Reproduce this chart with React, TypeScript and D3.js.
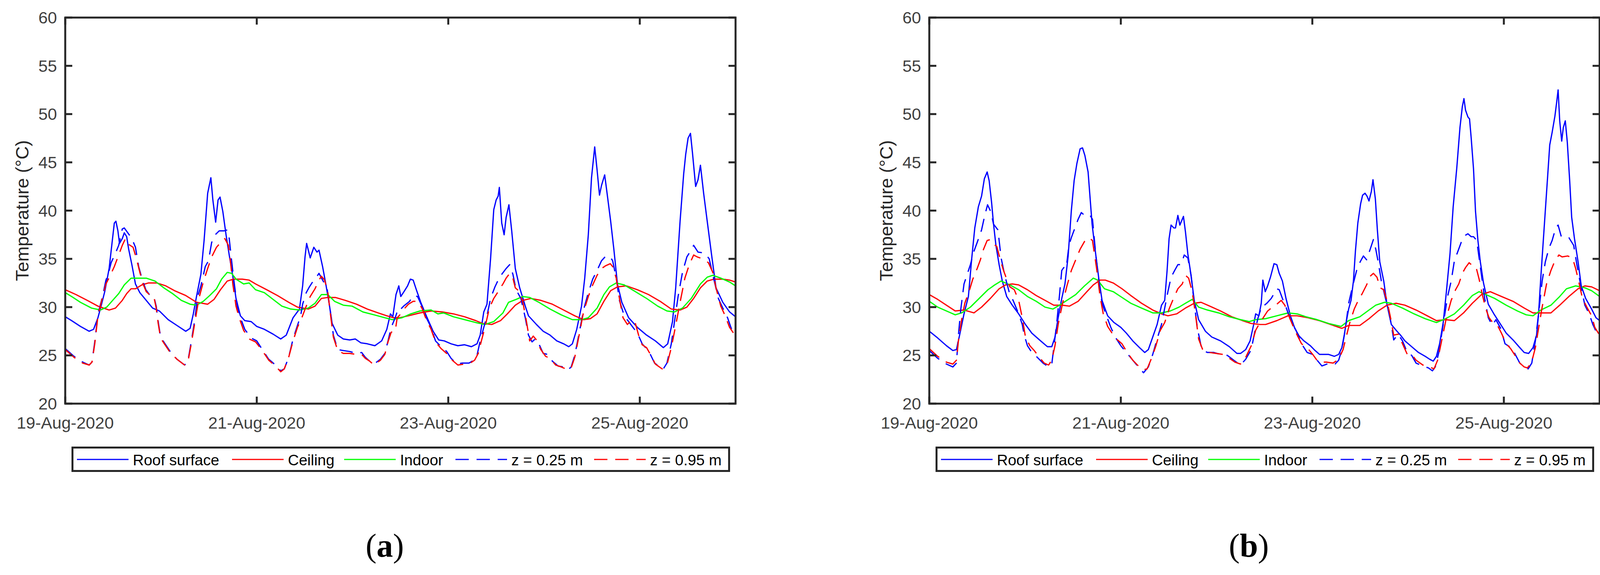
import { useEffect, useRef } from 'react'
import * as d3 from 'd3'

type Pt = [number, number] // [hours since 19-Aug-2020 00:00, temperature °C]

const startDate = new Date(Date.UTC(2020, 7, 19))
const endDate = new Date(Date.UTC(2020, 7, 26))
const xTickDates = [19, 21, 23, 25].map((d) => new Date(Date.UTC(2020, 7, d)))
const yTicks = [20, 25, 30, 35, 40, 45, 50, 55, 60]

const seriesNames = ['Roof surface', 'Ceiling', 'Indoor', 'z = 0.25 m', 'z = 0.95 m']
const seriesColors = ['#0000ff', '#ff0000', '#00ff00', '#0000ff', '#ff0000']
const seriesDashed = [false, false, false, true, true]
const panelLabels = ['a', 'b']

// ---- panel (a) ----
const aRoof: Pt[] = [
  [0, 29.0], [1.6, 28.6], [3.8, 28.0], [6.0, 27.5], [7.1, 27.7], [8.2, 28.9], [9.1, 30.3], [9.9, 31.6],
  [11, 34.0], [11.8, 36.9], [12.3, 38.7], [12.7, 38.9], [13.2, 37.9], [13.6, 36.6], [14.3, 37.1], [14.8, 37.7],
  [15.4, 37.3], [15.9, 36.0], [16.7, 34.4], [17.6, 32.4], [18.7, 31.5], [20.3, 30.7], [21.9, 29.9], [23.6, 29.6],
  [25.8, 28.7], [28.0, 28.1], [30.2, 27.5], [31.3, 27.8], [32.1, 29.3], [32.9, 31.1], [34.0, 33.4], [34.8, 36.9],
  [35.7, 41.8], [36.5, 43.4], [37.0, 41.1], [37.7, 38.8], [38.3, 41.1], [38.8, 41.4], [39.5, 39.9], [40.3, 37.5],
  [41.1, 35.4], [42.0, 33.2], [42.8, 30.9], [43.9, 29.1], [45.0, 28.6], [46.6, 28.5], [48.0, 28.0], [49.9, 27.7],
  [52.1, 27.2], [54.0, 26.7], [55.4, 27.1], [57.1, 28.9], [58.7, 29.8], [59.5, 32.2], [60.1, 35.2], [60.5, 36.6],
  [61.4, 35.1], [62.3, 36.2], [63.1, 35.7], [63.6, 35.9], [64.5, 34.2], [65.3, 32.4], [66.1, 30.5], [66.9, 28.3],
  [68.3, 27.1], [69.7, 26.7], [71.3, 26.6], [72.7, 26.7], [74.1, 26.3], [75.7, 26.2], [77.6, 26.0], [79.3, 26.5],
  [80.6, 27.7], [81.5, 29.3], [82.1, 29.0], [82.9, 31.3], [83.6, 32.2], [84.1, 31.1], [84.9, 31.6], [85.8, 32.2],
  [86.5, 32.9], [87.2, 32.8], [88.0, 31.8], [89.1, 30.5], [90.5, 29.1], [92.2, 27.5], [93.6, 26.6], [95.0, 26.5],
  [96.7, 26.2], [98.4, 26.0], [100.1, 26.1], [101.8, 25.9], [103.2, 26.2], [104.0, 27.1], [104.9, 29.5], [105.7, 30.3],
  [106.6, 35.0], [107.4, 40.1], [108.0, 41.1], [108.5, 41.5], [108.8, 42.4], [109.4, 38.7], [110.0, 37.5], [110.5, 39.3],
  [111.2, 40.6], [111.9, 37.9], [112.8, 34.0], [113.9, 32.0], [115.3, 30.1], [116.1, 29.1], [118.1, 28.2], [119.8, 27.5],
  [121.5, 27.1], [123.2, 26.5], [124.9, 26.2], [126.2, 25.9], [127.1, 26.2], [128.2, 27.7], [129.4, 30.1], [130.2, 33.0],
  [131.1, 37.5], [131.9, 43.4], [132.7, 46.6], [133.3, 44.2], [133.9, 41.6], [134.4, 42.6], [135.2, 43.7], [135.8, 41.8],
  [136.7, 38.9], [137.5, 36.0], [138.4, 32.4], [139.5, 30.5], [141.2, 28.9], [143.4, 27.9], [145.7, 27.1], [147.9, 26.5],
  [149.9, 25.8], [151.0, 26.2], [152.2, 28.5], [153.0, 32.0], [154.1, 38.9], [155.0, 43.8], [155.5, 45.8], [156.1, 47.5],
  [156.7, 48.0], [157.2, 46.0], [158.0, 42.5], [158.6, 43.2], [159.2, 44.7], [160.0, 41.8], [160.9, 38.9], [162.0, 35.4],
  [163.1, 32.0], [164.8, 30.5], [166.5, 29.5], [168, 29.0],
]

const aCeiling: Pt[] = [
  [0, 31.8], [2.7, 31.3], [5.5, 30.7], [8.2, 30.1], [11.0, 29.7], [12.6, 29.9], [14.3, 30.7], [15.4, 31.4],
  [16.5, 31.9], [17.6, 31.9], [19.2, 32.3], [20.8, 32.5], [23.0, 32.5], [25.2, 32.2], [27.4, 31.7], [30.2, 31.2],
  [32.9, 30.5], [35.7, 30.3], [37.3, 30.8], [38.9, 31.8], [40.6, 32.7], [42.2, 32.9], [44.4, 32.9], [46.1, 32.8],
  [47.7, 32.4], [50.5, 31.8], [53.2, 31.2], [56.0, 30.5], [58.2, 30.0], [60.9, 29.8], [62.6, 30.1], [64.2, 30.9],
  [65.8, 31.0], [67.7, 31.0], [70.2, 30.7], [73.0, 30.3], [75.7, 29.8], [78.4, 29.4], [80.6, 29.1], [82.3, 28.9],
  [83.8, 28.9], [86.0, 29.1], [88.9, 29.4], [91.7, 29.6], [94.5, 29.5], [97.3, 29.3], [100.1, 29.0], [102.9, 28.6],
  [104.6, 28.3], [106.9, 28.2], [109.1, 28.6], [110.8, 29.3], [112.8, 30.2], [114.7, 30.7], [116.7, 30.9], [119.2, 30.7],
  [122.1, 30.3], [124.9, 29.7], [127.7, 29.1], [129.9, 28.7], [131.6, 28.8], [133.3, 29.3], [135.0, 30.6], [136.7, 31.7],
  [138.4, 32.1], [140.6, 32.2], [143.4, 31.8], [146.2, 31.3], [149.1, 30.6], [151.9, 29.8], [154.1, 29.7], [155.8, 30.0],
  [157.5, 30.9], [159.2, 32.0], [160.9, 32.7], [162.6, 32.9], [164.8, 32.9], [166.5, 32.8], [168, 32.6],
]

const aIndoor: Pt[] = [
  [0, 31.5], [1.6, 31.1], [3.8, 30.5], [6.6, 29.9], [8.8, 29.7], [10.4, 30.0], [12.1, 30.8], [13.4, 31.4],
  [14.8, 32.3], [16.5, 33.0], [18.1, 33.0], [20.3, 33.0], [22.5, 32.7], [24.7, 32.0], [26.9, 31.4], [29.1, 30.7],
  [31.3, 30.3], [32.9, 30.2], [34.6, 30.6], [36.2, 31.2], [37.9, 31.9], [39.2, 32.9], [40.6, 33.6], [41.7, 33.5],
  [42.8, 32.9], [44.7, 32.4], [46.1, 32.5], [47.7, 31.8], [49.9, 31.5], [52.1, 30.8], [54.3, 30.1], [56.5, 29.8],
  [58.7, 29.7], [60.9, 29.9], [62.6, 30.4], [64.2, 31.3], [65.8, 31.3], [67.5, 30.6], [69.7, 30.2], [71.9, 30.1],
  [74.6, 29.5], [77.4, 29.2], [80.1, 28.9], [82.0, 28.7], [84.4, 28.9], [86.6, 29.3], [88.9, 29.6], [91.7, 29.7],
  [93.4, 29.3], [94.8, 29.4], [97.3, 29.0], [100.1, 28.7], [102.9, 28.4], [105.2, 28.2], [107.4, 28.5], [109.7, 29.4],
  [111.1, 30.5], [113.0, 30.8], [114.7, 31.1], [116.4, 31.0], [118.7, 30.5], [121.5, 29.8], [124.3, 29.2], [127.1, 28.7],
  [129.4, 28.7], [131.1, 28.9], [133.3, 29.9], [135.0, 31.3], [136.4, 32.1], [138.1, 32.5], [140.1, 32.3], [142.9, 31.6],
  [145.7, 30.9], [148.5, 30.1], [150.8, 29.6], [152.7, 29.5], [154.7, 29.9], [156.9, 30.9], [159.2, 32.4], [160.9, 33.1],
  [162.3, 33.3], [164.3, 33.0], [166.5, 32.6], [168, 32.2],
]

const aZ025: Pt[] = [
  [0, 25.7], [2.2, 24.9], [4.4, 24.3], [6.0, 24.0], [6.7, 24.3], [7.4, 26.4], [8.2, 29.3], [9.1, 30.7],
  [9.6, 31.6], [10.2, 32.8], [10.9, 33.6], [11.5, 34.6], [12.6, 35.6], [13.4, 36.4], [14.3, 38.1], [14.8, 38.2],
  [15.5, 37.8], [16.7, 37.1], [17.6, 36.2], [18.4, 34.2], [19.2, 33.0], [20.2, 31.8], [21.1, 31.3], [22.2, 31.1],
  [22.8, 30.1], [23.3, 28.5], [23.9, 26.9], [25.0, 26.2], [26.3, 25.4], [28.0, 24.6], [29.9, 24.0], [30.7, 24.3],
  [31.5, 26.2], [32.4, 28.5], [33.2, 31.1], [34.0, 32.2], [35.1, 34.2], [35.9, 34.8], [36.7, 36.7], [37.6, 37.5],
  [38.6, 37.9], [39.8, 37.9], [40.6, 38.0], [41.1, 37.1], [41.7, 34.8], [42.2, 33.0], [43.1, 30.1], [43.9, 28.9],
  [45.0, 27.7], [46.6, 26.8], [48.0, 26.5], [49.4, 25.6], [51.0, 24.6], [52.7, 24.0], [54.0, 23.4], [54.9, 23.6],
  [56.0, 24.8], [57.1, 26.7], [58.2, 28.1], [59.0, 29.1], [59.5, 30.3], [60.4, 31.5], [61.2, 32.1], [62.3, 32.8],
  [63.1, 33.2], [63.6, 33.5], [64.5, 32.8], [65.6, 32.0], [66.4, 29.7], [67.2, 27.1], [68.3, 25.6], [69.7, 25.5],
  [71.3, 25.4], [73.0, 25.2], [74.3, 25.3], [75.2, 24.8], [76.3, 24.4], [77.4, 24.1], [79.0, 24.6], [80.1, 25.2],
  [80.9, 26.5], [81.7, 27.9], [82.7, 28.9], [83.5, 29.9], [84.1, 29.8], [84.8, 30.1], [86.3, 30.6], [87.2, 31.2],
  [88.3, 31.1], [89.4, 30.1], [90.5, 28.9], [91.7, 27.9], [92.8, 26.5], [94.2, 25.9], [95.6, 25.4], [96.7, 24.7],
  [98.1, 24.1], [99.5, 24.2], [101.2, 24.2], [102.4, 24.5], [103.2, 25.0], [104.0, 26.5], [104.9, 27.9], [105.7, 29.1],
  [106.6, 30.9], [107.7, 32.1], [108.5, 32.8], [109.4, 33.4], [110.5, 34.0], [111.4, 34.4], [112.2, 33.4], [113.0, 31.8],
  [114.2, 30.9], [115.3, 28.9], [116.1, 27.1], [117.0, 26.4], [117.8, 26.7], [118.7, 26.2], [119.8, 25.2], [120.9, 25.1],
  [122.1, 24.4], [123.5, 23.9], [124.9, 23.8], [126.0, 23.5], [126.8, 23.8], [127.7, 25.0], [128.8, 27.3], [129.9, 29.7],
  [131.1, 31.5], [132.2, 32.9], [133.3, 33.8], [134.4, 34.8], [135.5, 35.3], [136.6, 35.2], [137.2, 34.8], [138.1, 33.0],
  [138.9, 30.7], [140.1, 29.1], [141.2, 28.5], [142.3, 27.9], [143.4, 27.3], [144.6, 26.2], [146.3, 25.4], [147.7, 24.2],
  [149.1, 23.8], [149.9, 23.6], [150.8, 24.2], [151.9, 26.2], [152.7, 28.5], [153.6, 31.1], [154.7, 33.6], [155.8, 35.2],
  [156.7, 35.8], [157.5, 36.4], [158.6, 35.7], [160.3, 35.6], [161.4, 35.0], [162.6, 32.8], [163.7, 30.9], [164.8, 29.9],
  [166.0, 28.9], [167.1, 27.6], [168, 27.1],
]

const aZ095: Pt[] = [
  [0, 25.6], [2.2, 24.8], [4.4, 24.2], [6.0, 24.0], [6.7, 24.3], [7.4, 26.2], [8.2, 29.1], [9.1, 30.6],
  [10.2, 32.4], [11.3, 33.3], [12.3, 34.2], [13.4, 35.4], [14.3, 36.4], [15.1, 37.1], [15.9, 36.5], [17.0, 36.2],
  [17.8, 35.1], [18.7, 33.6], [19.5, 32.4], [20.3, 31.6], [21.1, 31.3], [22.2, 31.1], [22.8, 29.9], [23.3, 28.3],
  [23.9, 26.8], [25.0, 26.1], [26.3, 25.3], [28.0, 24.6], [29.9, 24.0], [30.7, 24.2], [31.5, 26.0], [32.4, 28.2],
  [33.5, 30.9], [34.6, 32.6], [35.7, 34.0], [36.7, 35.2], [37.9, 36.2], [39.2, 36.8], [40.0, 37.1], [40.9, 36.4],
  [41.4, 34.8], [42.0, 32.4], [42.8, 30.1], [43.6, 28.9], [44.7, 27.6], [46.1, 26.7], [47.7, 26.4], [49.4, 25.5],
  [51.0, 24.5], [52.7, 23.9], [54.0, 23.3], [54.9, 23.6], [56.0, 24.8], [57.1, 26.5], [58.2, 27.9], [59.3, 28.9],
  [60.4, 30.1], [61.4, 31.1], [62.6, 31.9], [63.6, 32.8], [64.2, 33.2], [65.0, 32.8], [65.8, 31.6], [66.4, 29.5],
  [67.2, 26.9], [68.3, 25.5], [69.7, 25.2], [71.3, 25.2], [73.0, 25.1], [74.3, 25.1], [75.2, 24.7], [76.3, 24.4],
  [77.4, 24.0], [79.0, 24.5], [80.1, 25.1], [80.9, 26.4], [81.7, 27.4], [82.7, 27.5], [83.2, 28.9], [84.1, 29.3],
  [84.9, 29.8], [86.0, 30.3], [87.2, 30.6], [88.3, 30.6], [89.4, 29.9], [90.5, 28.7], [91.7, 27.7], [92.8, 26.4],
  [94.2, 25.7], [95.6, 25.2], [97.0, 24.5], [98.4, 24.0], [100.1, 24.1], [101.5, 24.2], [102.6, 24.5], [103.5, 25.2],
  [104.3, 26.5], [105.2, 27.9], [106.3, 29.9], [107.4, 30.9], [108.5, 31.6], [109.7, 32.4], [110.5, 33.0], [111.4, 33.5],
  [112.2, 33.0], [112.8, 32.0], [113.6, 31.7], [114.7, 30.5], [115.6, 28.5], [116.4, 26.5], [117.3, 27.0], [118.1, 26.6],
  [119.2, 25.6], [120.4, 24.9], [121.5, 24.7], [122.9, 24.0], [124.3, 23.8], [126.0, 23.5], [126.8, 23.7], [127.7, 24.8],
  [128.8, 27.1], [129.9, 29.5], [131.1, 31.1], [132.2, 32.3], [133.3, 33.3], [134.4, 34.0], [135.5, 34.3], [136.6, 34.5],
  [137.2, 34.2], [138.1, 33.0], [138.9, 30.9], [139.8, 28.9], [140.9, 28.2], [142.0, 28.7], [142.9, 28.3], [143.7, 27.1],
  [144.6, 26.1], [145.7, 25.8], [146.8, 25.0], [147.9, 24.1], [149.6, 23.6], [150.8, 24.0], [151.9, 25.8], [153.0, 28.1],
  [154.1, 30.5], [155.3, 33.0], [156.4, 34.4], [157.5, 35.4], [158.4, 35.2], [159.8, 35.0], [161.2, 34.6], [162.3, 33.6],
  [163.1, 32.0], [164.3, 30.1], [165.4, 29.1], [166.5, 27.9], [168, 27.0],
]

// ---- panel (b) ----
const bRoof: Pt[] = [
  [0, 27.5], [2.1, 26.8], [4.3, 26.0], [5.9, 25.5], [6.8, 25.6], [7.6, 27.1], [8.7, 29.3], [9.8, 31.1],
  [10.6, 34.9], [11.4, 38.2], [12.3, 40.4], [13.1, 41.5], [13.8, 43.3], [14.5, 44.0], [15.0, 43.1], [15.6, 40.9],
  [16.1, 38.6], [16.7, 36.4], [17.5, 34.4], [18.3, 32.7], [19.4, 31.1], [20.8, 30.2], [22.4, 29.3], [24.1, 28.2],
  [25.7, 27.3], [27.9, 26.5], [29.6, 25.9], [30.7, 25.9], [31.5, 26.9], [32.3, 28.9], [33.2, 30.9], [34.0, 32.4],
  [34.8, 35.3], [35.6, 40.0], [36.3, 43.1], [37.0, 44.9], [37.8, 46.4], [38.4, 46.5], [39.0, 45.7], [39.8, 44.0],
  [40.3, 41.3], [40.8, 38.6], [41.7, 35.5], [42.5, 32.9], [43.3, 30.7], [44.7, 29.1], [46.3, 28.4], [48.0, 27.9],
  [49.4, 27.3], [51.0, 26.5], [52.7, 25.8], [54.0, 25.3], [54.9, 25.6], [56.0, 26.9], [57.1, 28.2], [58.2, 30.2],
  [59.0, 30.7], [59.6, 33.8], [60.1, 37.1], [60.6, 38.5], [61.3, 38.2], [61.7, 38.2], [62.3, 39.5], [62.8, 38.5],
  [63.7, 39.4], [64.2, 37.8], [64.8, 35.5], [65.6, 33.3], [66.4, 30.7], [67.5, 28.7], [69.2, 27.5], [70.8, 26.9],
  [73.0, 26.5], [75.2, 25.9], [77.1, 25.2], [78.0, 25.2], [79.3, 25.6], [80.4, 26.5], [81.3, 28.2], [81.8, 29.3],
  [82.6, 29.1], [83.2, 30.4], [83.6, 32.8], [84.2, 31.6], [84.8, 32.2], [85.5, 33.1], [86.4, 34.5], [87.1, 34.4],
  [87.7, 33.5], [88.5, 32.7], [89.4, 30.9], [90.5, 29.1], [91.6, 27.8], [92.7, 27.0], [93.9, 26.5], [95.5, 26.0],
  [96.7, 25.5], [97.8, 25.1], [100.1, 25.1], [101.5, 24.9], [102.6, 25.1], [103.4, 25.8], [104.0, 27.1], [104.6, 28.7],
  [105.1, 29.8], [105.7, 30.7], [106.3, 32.7], [106.8, 35.8], [107.4, 38.7], [108.1, 40.7], [108.6, 41.6], [109.2, 41.8],
  [109.7, 41.5], [110.2, 41.0], [110.8, 42.0], [111.2, 43.2], [111.8, 41.2], [112.3, 38.0], [112.9, 34.7], [113.9, 32.7],
  [114.7, 30.3], [115.8, 28.2], [117.0, 27.6], [118.1, 27.1], [119.2, 26.5], [120.9, 25.9], [122.6, 25.3], [124.3, 24.9],
  [125.4, 24.6], [126.3, 24.4], [127.1, 24.9], [127.9, 26.2], [128.8, 28.4], [129.6, 31.6], [130.5, 35.5], [131.3, 40.4],
  [132.2, 44.4], [133.0, 48.6], [133.6, 50.8], [134.0, 51.6], [134.4, 50.4], [135.0, 49.7], [135.4, 49.5], [135.8, 47.6],
  [136.4, 44.3], [136.9, 39.9], [137.5, 36.9], [138.1, 34.7], [138.9, 32.5], [140.1, 30.3], [141.5, 29.3], [142.9, 28.4],
  [144.6, 27.3], [146.3, 26.6], [148.0, 25.8], [149.1, 25.3], [150.2, 25.2], [151.3, 25.8], [152.2, 27.1], [152.7, 29.3],
  [153.3, 33.3], [154.1, 38.2], [155.0, 43.7], [155.5, 46.8], [156.1, 48.1], [156.8, 49.8], [157.2, 51.1], [157.6, 52.5],
  [158.0, 49.3], [158.5, 47.2], [158.9, 48.6], [159.4, 49.3], [159.9, 47.1], [160.5, 43.1], [161.0, 39.3], [161.7, 37.1],
  [162.6, 34.7], [163.4, 32.2], [164.5, 30.9], [166.0, 29.8], [167.1, 28.9], [168, 28.6],
]

const bCeiling: Pt[] = [
  [0, 31.3], [2.1, 30.8], [4.3, 30.2], [6.5, 29.6], [8.7, 29.7], [11.2, 29.4], [13.1, 30.0], [15.3, 30.9],
  [17.5, 31.9], [19.1, 32.3], [20.8, 32.4], [22.4, 32.3], [24.6, 31.8], [26.8, 31.2], [29.0, 30.7], [31.2, 30.2],
  [33.4, 30.2], [35.1, 30.1], [37.3, 30.6], [39.5, 31.6], [41.1, 32.3], [42.8, 32.8], [44.1, 32.8], [46.1, 32.5],
  [48.3, 31.9], [50.5, 31.2], [53.2, 30.4], [56.0, 29.7], [58.2, 29.3], [59.8, 29.1], [62.0, 29.3], [64.2, 29.9],
  [66.4, 30.4], [68.1, 30.5], [70.3, 30.1], [73.0, 29.6], [75.8, 29.0], [78.5, 28.6], [80.7, 28.3], [82.9, 28.2],
  [84.3, 28.2], [87.1, 28.6], [89.9, 29.1], [92.2, 29.1], [94.9, 28.9], [97.8, 28.6], [100.6, 28.2], [103.4, 27.8],
  [105.1, 28.1], [107.9, 28.1], [110.2, 28.8], [112.5, 29.6], [114.7, 30.2], [117.0, 30.4], [119.2, 30.2], [122.0, 29.7],
  [124.8, 29.1], [127.1, 28.6], [129.4, 28.7], [131.6, 28.6], [133.9, 29.4], [136.1, 30.4], [138.4, 31.3], [140.6, 31.6],
  [143.4, 31.1], [146.3, 30.6], [149.1, 29.9], [151.3, 29.4], [153.6, 29.4], [155.8, 29.4], [158.0, 30.2], [160.3, 31.1],
  [162.6, 31.9], [164.3, 32.2], [166.0, 32.1], [168, 31.7],
]

const bIndoor: Pt[] = [
  [0, 30.6], [2.1, 30.0], [4.3, 29.6], [6.5, 29.2], [8.1, 29.4], [10.3, 30.0], [12.5, 30.9], [14.7, 31.8],
  [16.4, 32.3], [18.0, 32.7], [20.2, 32.3], [22.4, 31.8], [24.6, 31.1], [26.8, 30.6], [29.0, 30.0], [31.0, 29.8],
  [32.6, 30.2], [34.5, 30.7], [36.7, 31.3], [38.9, 32.2], [41.1, 33.0], [42.2, 32.8], [43.9, 31.9], [46.1, 31.6],
  [48.3, 31.0], [50.5, 30.4], [53.2, 29.9], [56.0, 29.4], [58.2, 29.4], [60.4, 29.6], [62.6, 30.0], [64.2, 30.4],
  [65.9, 30.8], [67.5, 30.0], [69.7, 29.7], [72.5, 29.4], [75.2, 29.0], [78.0, 28.7], [80.2, 28.5], [81.8, 28.7],
  [84.3, 28.8], [87.1, 29.1], [89.9, 29.4], [92.2, 29.3], [94.4, 29.0], [97.2, 28.7], [100.1, 28.3], [103.2, 28.0],
  [105.1, 28.6], [107.9, 29.0], [110.2, 29.7], [111.9, 30.2], [114.1, 30.5], [115.8, 30.4], [118.6, 29.9], [121.5, 29.3],
  [124.3, 28.8], [127.1, 28.4], [129.4, 28.8], [131.6, 29.3], [133.9, 30.2], [136.1, 31.2], [137.8, 31.6], [139.5, 31.3],
  [141.7, 30.9], [144.6, 30.2], [147.4, 29.6], [149.6, 29.2], [151.3, 29.1], [153.3, 29.7], [155.8, 30.2], [158.0, 31.1],
  [159.7, 31.9], [162.0, 32.2], [164.3, 32.0], [166.0, 31.7], [168, 31.1],
]

const bZ025: Pt[] = [
  [0, 25.5], [2.1, 24.7], [4.3, 24.1], [5.9, 23.8], [6.8, 24.2], [7.3, 27.1], [7.9, 29.8], [8.7, 32.4],
  [9.5, 33.4], [10.3, 34.4], [11.2, 35.8], [12.0, 36.7], [13.1, 38.0], [13.9, 39.5], [14.6, 40.6], [15.4, 39.9],
  [16.1, 38.6], [17.2, 38.0], [18.0, 35.1], [18.9, 33.3], [20.0, 31.6], [21.1, 30.6], [22.4, 29.3], [23.3, 28.2],
  [23.8, 27.1], [24.6, 26.0], [25.7, 25.3], [26.8, 24.9], [28.5, 24.2], [29.9, 23.8], [30.7, 24.1], [31.2, 25.8],
  [31.9, 28.2], [32.6, 31.1], [33.2, 33.8], [33.7, 34.1], [34.3, 34.0], [35.0, 36.4], [35.6, 37.2], [36.5, 38.2],
  [37.3, 39.1], [38.1, 39.8], [39.2, 39.4], [40.3, 39.5], [40.9, 39.1], [41.2, 37.8], [41.7, 35.5], [42.5, 32.7],
  [43.3, 30.4], [44.4, 29.1], [45.5, 27.9], [46.6, 26.9], [48.0, 26.0], [49.4, 25.3], [51.0, 24.5], [52.4, 23.8],
  [53.7, 23.2], [54.9, 23.8], [56.0, 25.1], [57.1, 26.7], [58.2, 28.2], [59.0, 29.9], [59.8, 31.6], [60.6, 33.1],
  [61.5, 33.8], [62.3, 34.4], [63.1, 34.4], [63.9, 35.4], [64.8, 35.1], [65.6, 33.3], [66.4, 30.4], [67.2, 27.8],
  [68.3, 25.6], [69.7, 25.3], [71.3, 25.3], [73.0, 25.1], [74.7, 25.0], [76.3, 24.5], [78.0, 24.0], [79.3, 24.6],
  [80.7, 25.6], [81.5, 27.3], [82.4, 28.9], [83.4, 30.2], [84.0, 30.2], [84.6, 30.4], [85.7, 30.9], [87.1, 31.9],
  [87.7, 31.8], [88.5, 30.9], [89.4, 30.0], [90.5, 28.7], [91.9, 27.6], [93.3, 26.2], [94.7, 25.3], [96.1, 25.1],
  [97.2, 24.5], [98.4, 23.9], [100.3, 24.2], [101.7, 24.1], [102.6, 24.5], [103.4, 25.6], [104.3, 27.8], [105.1, 30.4],
  [106.0, 32.0], [107.1, 33.8], [108.0, 34.7], [108.8, 35.3], [109.6, 34.9], [110.5, 36.0], [111.3, 37.0], [111.9, 36.0],
  [112.5, 34.7], [113.3, 32.7], [114.1, 31.3], [115.0, 29.8], [115.8, 28.2], [116.4, 26.6], [117.5, 27.2], [118.6, 26.5],
  [119.8, 25.3], [120.9, 25.0], [122.0, 24.2], [123.7, 23.9], [125.1, 23.7], [126.1, 23.4], [126.8, 23.8], [127.7, 25.3],
  [128.8, 28.2], [129.9, 31.1], [130.8, 32.7], [131.6, 34.8], [132.5, 35.8], [133.3, 36.7], [134.2, 37.4], [135.0, 37.6],
  [135.8, 37.3], [136.4, 37.3], [137.2, 36.9], [138.1, 34.2], [138.6, 32.7], [139.2, 30.9], [140.1, 28.9], [141.1, 28.1],
  [142.0, 28.7], [143.2, 27.8], [144.3, 26.2], [145.4, 25.9], [146.6, 25.3], [148.0, 24.2], [149.1, 23.8], [150.1, 23.6],
  [151.0, 24.2], [151.9, 26.5], [152.7, 29.3], [153.6, 32.7], [154.4, 34.7], [155.3, 36.1], [156.1, 36.9], [157.0, 38.2],
  [157.6, 38.5], [158.4, 37.3], [159.2, 37.2], [160.3, 37.2], [161.5, 36.4], [162.3, 34.4], [163.2, 32.4], [164.3, 30.2],
  [165.4, 29.3], [166.3, 28.2], [167.1, 27.5], [168, 27.1],
]

const bZ095: Pt[] = [
  [0, 25.7], [2.1, 24.9], [4.3, 24.3], [5.9, 24.1], [6.8, 24.5], [7.3, 26.5], [8.1, 28.7], [8.9, 30.4],
  [10.1, 31.8], [10.9, 32.9], [12.0, 34.0], [12.8, 34.9], [13.6, 36.0], [14.5, 36.9], [15.3, 37.0], [16.1, 36.5],
  [16.9, 36.3], [17.8, 34.9], [18.6, 33.8], [19.4, 32.9], [20.2, 32.1], [21.3, 31.8], [22.4, 30.7], [23.3, 28.9],
  [24.1, 26.9], [25.2, 26.0], [26.3, 25.5], [27.4, 24.9], [28.8, 24.2], [29.9, 24.0], [30.7, 24.5], [31.5, 26.0],
  [32.3, 28.2], [33.4, 30.4], [34.5, 32.2], [35.6, 33.8], [36.7, 34.9], [37.8, 36.0], [38.9, 36.8], [40.0, 37.2],
  [40.9, 36.9], [41.4, 35.5], [42.0, 33.8], [42.8, 31.1], [43.6, 29.3], [44.7, 28.0], [45.8, 27.3], [46.9, 26.7],
  [48.3, 26.2], [49.6, 25.3], [51.0, 24.5], [52.4, 23.9], [53.5, 23.5], [54.6, 23.6], [55.7, 24.7], [56.8, 26.0],
  [57.9, 27.6], [59.0, 28.4], [60.1, 29.8], [61.2, 30.9], [62.3, 31.9], [63.4, 32.4], [64.2, 33.3], [65.0, 33.0],
  [65.9, 31.6], [66.7, 29.3], [67.5, 26.7], [68.6, 25.5], [70.3, 25.3], [71.9, 25.2], [73.6, 25.1], [75.2, 24.7],
  [76.6, 24.3], [78.0, 24.1], [79.3, 24.8], [80.7, 26.0], [81.8, 27.6], [82.6, 28.2], [83.7, 28.9], [84.8, 29.6],
  [86.0, 30.0], [87.1, 30.3], [88.2, 30.7], [89.1, 30.2], [89.9, 29.3], [91.0, 28.2], [92.2, 27.1], [93.3, 26.2],
  [94.7, 25.8], [96.1, 25.1], [97.5, 24.3], [99.5, 24.3], [101.2, 24.2], [102.6, 24.6], [103.7, 25.6], [104.6, 27.1],
  [105.4, 28.4], [106.5, 29.8], [107.4, 30.6], [108.5, 31.4], [109.6, 32.3], [110.5, 33.2], [111.3, 33.5], [112.2, 33.1],
  [113.0, 32.0], [113.9, 31.8], [114.7, 30.7], [115.6, 28.9], [116.4, 27.1], [117.5, 27.2], [118.6, 26.2], [119.8, 25.1],
  [120.9, 25.1], [122.0, 24.5], [123.7, 24.0], [125.4, 23.8], [126.5, 23.6], [127.4, 24.5], [128.5, 26.7], [129.6, 28.9],
  [130.8, 30.7], [131.9, 31.8], [132.7, 32.4], [133.6, 33.5], [134.4, 34.1], [135.3, 34.6], [136.1, 34.3], [137.0, 34.2],
  [137.8, 32.9], [138.6, 31.3], [139.5, 29.8], [140.3, 28.9], [141.2, 28.4], [142.3, 28.2], [143.4, 27.3], [144.6, 26.2],
  [145.7, 25.7], [146.8, 25.0], [148.0, 24.2], [149.1, 23.8], [149.9, 23.7], [150.9, 24.2], [151.9, 25.8], [152.7, 27.8],
  [153.6, 30.0], [154.7, 32.4], [155.8, 33.8], [156.7, 34.7], [157.8, 35.4], [158.6, 35.2], [160.0, 35.3], [161.2, 35.1],
  [162.0, 34.0], [162.9, 32.4], [163.7, 30.9], [164.8, 30.0], [166.0, 29.1], [166.8, 27.9], [168, 27.1],
]

const panelA = [aRoof, aCeiling, aIndoor, aZ025, aZ095]
const panelB = [bRoof, bCeiling, bIndoor, bZ025, bZ095]

const WIDTH = 4131
const HEIGHT = 1473
const PANEL_SHIFT = 2212

export default function App() {
  const svgRef = useRef<SVGSVGElement>(null)

  useEffect(() => {
    if (!svgRef.current) return
    const svg = d3.select(svgRef.current)
    svg.selectAll('*').remove()

    const plot = { left: 167, right: 1883, top: 45, bottom: 1034 }
    const sans = "'Liberation Sans', Arial, Helvetica, sans-serif"
    const axisColor = '#262626'
    const tickLen = 18

    const drawPanel = (series: Pt[][], ox: number, label: string) => {
      const g = svg.append('g').attr('transform', `translate(${ox},0)`)

      const x = d3.scaleUtc().domain([startDate, endDate]).range([plot.left, plot.right])
      const y = d3.scaleLinear().domain([20, 60]).range([plot.bottom, plot.top])
      const toDate = (h: number) => new Date(startDate.getTime() + h * 3600 * 1000)

      const clipId = `clip-${label}`
      g.append('clipPath')
        .attr('id', clipId)
        .append('rect')
        .attr('x', plot.left)
        .attr('y', plot.top)
        .attr('width', plot.right - plot.left)
        .attr('height', plot.bottom - plot.top)

      const line = d3
        .line<Pt>()
        .x((d) => x(toDate(d[0])))
        .y((d) => y(d[1]))

      const lines = g.append('g').attr('clip-path', `url(#${clipId})`)
      series.forEach((s, i) => {
        lines
          .append('path')
          .datum(s)
          .attr('fill', 'none')
          .attr('stroke', seriesColors[i])
          .attr('stroke-width', 3.2)
          .attr('stroke-linejoin', 'round')
          .attr('stroke-dasharray', seriesDashed[i] ? '34,20' : null)
          .attr('d', line)
      })

      // box
      g.append('rect')
        .attr('x', plot.left)
        .attr('y', plot.top)
        .attr('width', plot.right - plot.left)
        .attr('height', plot.bottom - plot.top)
        .attr('fill', 'none')
        .attr('stroke', axisColor)
        .attr('stroke-width', 5)

      // y ticks (inside, both sides)
      yTicks.forEach((t) => {
        const yy = y(t)
        g.append('line')
          .attr('x1', plot.left).attr('x2', plot.left + tickLen)
          .attr('y1', yy).attr('y2', yy)
          .attr('stroke', axisColor).attr('stroke-width', 5)
        g.append('line')
          .attr('x1', plot.right - tickLen).attr('x2', plot.right)
          .attr('y1', yy).attr('y2', yy)
          .attr('stroke', axisColor).attr('stroke-width', 5)
        g.append('text')
          .attr('x', plot.left - 21)
          .attr('y', yy + 15)
          .attr('text-anchor', 'end')
          .attr('font-family', sans)
          .attr('font-size', 43)
          .attr('fill', '#404040')
          .text(String(t))
      })

      // x ticks (inside, top and bottom)
      const fmt = d3.utcFormat('%d-%b-%Y')
      xTickDates.forEach((d) => {
        const xx = x(d)
        g.append('line')
          .attr('x1', xx).attr('x2', xx)
          .attr('y1', plot.bottom).attr('y2', plot.bottom - tickLen)
          .attr('stroke', axisColor).attr('stroke-width', 5)
        g.append('line')
          .attr('x1', xx).attr('x2', xx)
          .attr('y1', plot.top).attr('y2', plot.top + tickLen)
          .attr('stroke', axisColor).attr('stroke-width', 5)
        g.append('text')
          .attr('x', xx)
          .attr('y', 1098)
          .attr('text-anchor', 'middle')
          .attr('font-family', sans)
          .attr('font-size', 43)
          .attr('fill', '#404040')
          .text(fmt(d))
      })

      // y-axis label
      const midY = (plot.top + plot.bottom) / 2
      g.append('text')
        .attr('transform', `translate(73,${midY}) rotate(-90)`)
        .attr('text-anchor', 'middle')
        .attr('font-family', sans)
        .attr('font-size', 47)
        .attr('fill', axisColor)
        .text('Temperature (°C)')

      // legend (southoutside, horizontal)
      const lg = g.append('g')
      lg.append('rect')
        .attr('x', 185.5)
        .attr('y', 1146.5)
        .attr('width', 1681)
        .attr('height', 60)
        .attr('fill', '#fff')
        .attr('stroke', axisColor)
        .attr('stroke-width', 5)
      const itemX = [197, 594, 881, 1166, 1521]
      seriesNames.forEach((name, i) => {
        lg.append('line')
          .attr('x1', itemX[i]).attr('x2', itemX[i] + 132)
          .attr('y1', 1177).attr('y2', 1177)
          .attr('stroke', seriesColors[i])
          .attr('stroke-width', 3.2)
          .attr('stroke-dasharray', seriesDashed[i] ? '34,20' : null)
        lg.append('text')
          .attr('x', itemX[i] + 143)
          .attr('y', 1192)
          .attr('font-family', sans)
          .attr('font-size', 39)
          .attr('fill', '#000')
          .text(name)
      })

      // panel caption
      const cap = g.append('text')
        .attr('x', 985)
        .attr('y', 1426)
        .attr('text-anchor', 'middle')
        .attr('font-family', "'Liberation Serif', 'Times New Roman', serif")
        .attr('font-size', 84)
        .attr('fill', '#000')
      cap.append('tspan').text('(')
      cap.append('tspan').attr('font-weight', 'bold').text(label)
      cap.append('tspan').text(')')
    }

    drawPanel(panelA, 0, panelLabels[0])
    drawPanel(panelB, PANEL_SHIFT, panelLabels[1])
  }, [])

  return (
    <svg
      ref={svgRef}
      width={WIDTH}
      height={HEIGHT}
      style={{ position: 'absolute', left: 0, top: 0, background: '#fff' }}
    />
  )
}
